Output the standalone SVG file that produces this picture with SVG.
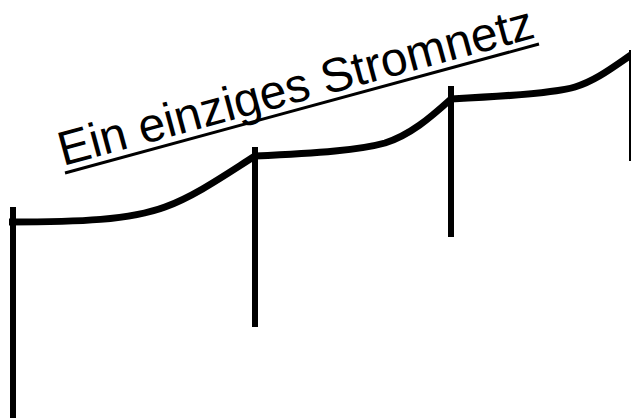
<svg xmlns="http://www.w3.org/2000/svg" width="631" height="420" viewBox="0 0 631 420">
  <style>
    .pole { stroke: #000; stroke-width: 6; fill: none; }
    .wire { stroke: #000; stroke-width: 7; fill: none; stroke-linejoin: round; }
    .title { font-family: "Liberation Sans", Arial, sans-serif; font-size: 48px; fill: #000; }
    .uline { stroke: #000; stroke-width: 3; }
  </style>
  <rect width="631" height="420" fill="#fff"/>
  <g id="title">
    <text class="title" transform="translate(63,166) rotate(-15.2)">Ein einziges Stromnetz</text>
    <line class="uline" x1="65" y1="173" x2="539" y2="44"/>
  </g>
  <g id="pole1"><line class="pole" x1="13" y1="207" x2="13" y2="418"/></g>
  <g id="pole2"><line class="pole" x1="255" y1="147" x2="255" y2="327"/></g>
  <g id="pole3"><line class="pole" x1="451" y1="86" x2="451" y2="237"/></g>
  <g id="pole4"><line class="pole" x1="632" y1="50" x2="632" y2="161"/></g>
  <g id="connectors">
    <path class="wire" d="M9,222 C80,222 130,220 165,207 C195,196 225,175 255,156 C320,153 360,150 385,143 C410,135 430,118 451,99 C510,96 555,93 575,87 C595,81 612,68 631,55"/>
  </g>
</svg>
